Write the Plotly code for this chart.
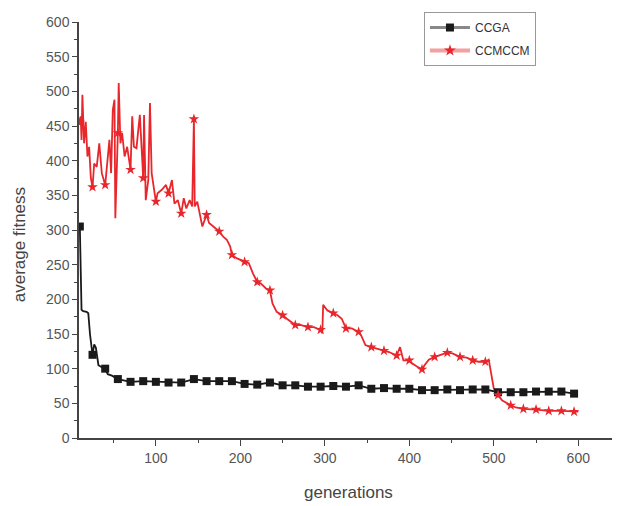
import plotly.graph_objects as go

# ---- data ----
ccga_x = [10, 11, 12, 14, 18, 20, 22, 25, 27, 29, 32, 36, 40, 43, 48, 55, 62, 70, 85, 100,
          115, 130, 145, 160, 175, 190, 205, 220, 235, 250, 265, 280, 295, 310, 325, 340,
          355, 370, 385, 400, 415, 430, 445, 460, 475, 490, 505, 520, 535, 550, 565, 580, 595]
ccga_y = [305, 210, 185, 183, 182, 180, 150, 120, 135, 130, 105, 102, 100, 92, 90, 85, 83, 81, 82, 81,
          80, 80, 85, 82, 82, 82, 78, 77, 80, 76, 76, 74, 74, 75, 74, 76,
          71, 72, 71, 71, 69, 69, 70, 69, 70, 70, 66, 66, 66, 67, 67, 67, 64]

ccmccm_x = [10, 11, 12, 13, 15, 17, 19, 21, 23, 25, 27, 30, 33, 36, 40, 42, 45, 47, 49, 51,
            52, 55, 56, 58, 60, 63, 66, 70, 72, 74, 77, 81, 85, 86, 88, 91, 93, 95, 100, 102,
            107, 112, 115, 119, 122, 126, 130, 133, 136, 140, 143, 145, 146, 149, 152, 155, 160, 163, 168, 175,
            180, 184, 188, 190, 196, 205, 210, 215, 220, 224, 230, 235, 238, 243, 250, 255, 259, 265, 271, 280,
            287, 295, 297, 298, 303, 310, 315, 320, 325, 332, 340, 343, 348, 355, 360, 370, 376, 385, 389, 393,
            400, 404, 409, 415, 418, 423, 430, 435, 445, 451, 460, 468, 475, 482, 490, 494, 497, 500, 505, 510,
            516, 520, 526, 535, 550, 565, 580, 595, 600]
ccmccm_y = [455, 464, 430, 495, 425, 456, 406, 420, 375, 362, 396, 391, 425, 382, 365, 391, 430, 382, 473, 488,
            317, 440, 512, 425, 440, 406, 420, 387, 464, 420, 418, 466, 375, 466, 343, 372, 483, 382, 341, 353,
            358, 365, 353, 372, 338, 343, 324, 346, 331, 343, 334, 460, 334, 341, 324, 305, 322, 310, 305, 298,
            290, 286, 276, 264, 259, 254, 252, 237, 225, 223, 216, 213, 194, 182, 177, 172, 168, 163, 163, 160,
            160, 156, 151, 192, 184, 180, 177, 172, 158, 158, 153, 148, 134, 131, 129, 126, 124, 119, 131, 112,
            112, 107, 103, 99, 105, 113, 117, 119, 123, 122, 117, 116, 112, 110, 110, 113, 93, 71, 62, 54,
            50, 47, 44, 42, 41, 39, 39, 38, 38]

marker_gens = list(range(10, 600, 15))
x_ticks = [100, 200, 300, 400, 500, 600]
y_ticks = [0, 50, 100, 150, 200, 250, 300, 350, 400, 450, 500, 550, 600]

BLACK = "#1a1a1a"
RED = "#e8262b"


def pick(xs, ys, gens):
    lut = dict(zip(xs, ys))
    gx = [g for g in gens if g in lut]
    return gx, [lut[g] for g in gx]


fig = go.Figure()

# lines
fig.add_trace(go.Scatter(x=ccga_x, y=ccga_y, mode="lines", line=dict(color=BLACK, width=1.8),
                         showlegend=False, hoverinfo="skip"))
fig.add_trace(go.Scatter(x=ccmccm_x, y=ccmccm_y, mode="lines", line=dict(color=RED, width=1.8),
                         showlegend=False, hoverinfo="skip"))
# markers
mx, my = pick(ccga_x, ccga_y, marker_gens)
fig.add_trace(go.Scatter(x=mx, y=my, mode="markers",
                         marker=dict(symbol="square", size=8, color=BLACK), showlegend=False))
mx, my = pick(ccmccm_x, ccmccm_y, marker_gens)
fig.add_trace(go.Scatter(x=mx, y=my, mode="markers",
                         marker=dict(symbol="star", size=8, color=RED), showlegend=False))
# legend entries
fig.add_trace(go.Scatter(x=[None], y=[None], mode="lines+markers", name="CCGA",
                         line=dict(color="#888888", width=3),
                         marker=dict(symbol="square", size=8, color=BLACK), legendgroup="a"))
fig.add_trace(go.Scatter(x=[None], y=[None], mode="lines+markers", name="CCMCCM",
                         line=dict(color="#f2a0a0", width=4),
                         marker=dict(symbol="star", size=9, color=RED), legendgroup="b"))

axis_font = dict(family="Liberation Sans, Arial, sans-serif", size=14, color="#555555")

# the page body adds an 8px offset, so the figure is drawn 8px smaller with shifted margins
fig.update_layout(
    width=612, height=498,
    margin=dict(l=71, r=2, t=14, b=68),
    paper_bgcolor="white", plot_bgcolor="white",
    font=dict(family="Liberation Sans, Arial, sans-serif"),
    showlegend=True,
    legend=dict(x=0.64, y=1.024, xanchor="left", yanchor="top",
                bordercolor="#999999", borderwidth=1, bgcolor="white",
                font=dict(size=12, color="#333333"),
                traceorder="grouped", tracegroupgap=4,
                itemwidth=40),
    xaxis=dict(range=[9, 647], tickvals=x_ticks, ticks="outside", ticklen=6, tickwidth=1,
               tickcolor="#444444", showline=True, linecolor="#444444", linewidth=1.5,
               showgrid=False, zeroline=False, tickfont=axis_font,
               minor=dict(tickvals=[50, 150, 250, 350, 450, 550], ticks="outside", ticklen=3,
                          tickcolor="#444444")),
    yaxis=dict(range=[0, 600], tickvals=y_ticks, ticks="outside", ticklen=5, tickwidth=1,
               tickcolor="#444444", showline=True, linecolor="#444444", linewidth=1.5,
               showgrid=False, zeroline=False, tickfont=axis_font,
               minor=dict(tickvals=[v + 25 for v in y_ticks[:-1]], ticks="outside", ticklen=3,
                          tickcolor="#444444")),
    annotations=[
        dict(text="generations", xref="paper", yref="paper", x=0.5, y=-0.132,
             xanchor="center", yanchor="middle", showarrow=False,
             font=dict(size=17, color="#444444")),
        dict(text="average fitness", xref="paper", yref="paper", x=-0.109, y=0.464,
             xanchor="center", yanchor="middle", showarrow=False, textangle=-90,
             font=dict(size=17, color="#444444")),
    ],
)

fig.write_html("out.html")
